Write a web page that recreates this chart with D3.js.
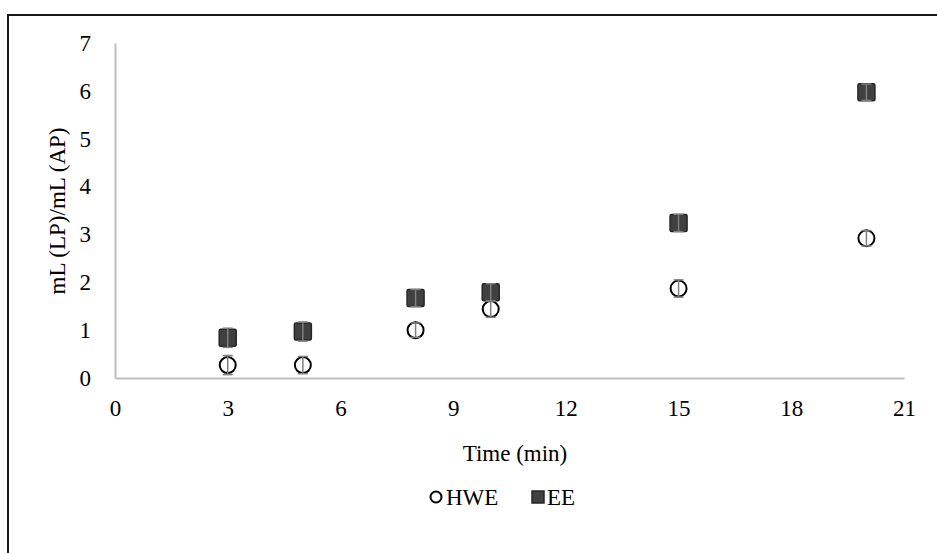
<!DOCTYPE html>
<html>
<head>
<meta charset="utf-8">
<script src="https://cdn.jsdelivr.net/npm/d3@7"></script>
<style>
  body { margin: 0; background: #fff; }
</style>
</head>
<body>
<svg id="chart" width="937" height="553"></svg>
<script>
// Extraction times (min)
const times = [3, 5, 8, 10, 15, 20]

// Volume ratios, with their error bars
const hweValues = [0.27, 0.27, 1.0, 1.44, 1.87, 2.92]
const hweErrors = [0.2, 0.18, 0.15, 0.17, 0.18, 0.16]
const eeValues = [0.84, 0.97, 1.67, 1.79, 3.24, 5.97]
const eeErrors = [0.2, 0.2, 0.18, 0.18, 0.18, 0.17]

const xTicks = [0, 3, 6, 9, 12, 15, 18, 21]
const yTicks = [0, 1, 2, 3, 4, 5, 6, 7]

const FONT = "'Liberation Serif', 'Times New Roman', 'DejaVu Serif', serif"
const FONT_SIZE = '23px'

const svg = d3.select('#chart')

// Outer frame of the chart area
svg.append('rect')
  .attr('x', 8)
  .attr('y', 15)
  .attr('width', 940)
  .attr('height', 560)
  .attr('fill', 'none')
  .attr('stroke', '#1a1a1a')
  .attr('stroke-width', 2)

const x = d3.scaleLinear().domain([0, 21]).range([115, 904])
const y = d3.scaleLinear().domain([0, 7]).range([378, 43])

// Axes: grey lines, no tick marks
const xAxis = svg.append('g')
  .attr('transform', `translate(0,${y(0)})`)
  .call(d3.axisBottom(x).tickValues(xTicks).tickFormat(d3.format('d')).tickSize(0).tickPadding(22))
xAxis.select('.domain').attr('stroke', '#bfbfbf').attr('stroke-width', 2)
xAxis.selectAll('text')
  .style('font-family', FONT)
  .style('font-size', FONT_SIZE)
  .attr('fill', '#000')

const yAxis = svg.append('g')
  .attr('transform', `translate(${x(0)},0)`)
  .call(d3.axisLeft(y).tickValues(yTicks).tickFormat(d3.format('d')).tickSize(0).tickPadding(24))
yAxis.select('.domain').attr('stroke', '#bfbfbf').attr('stroke-width', 2)
yAxis.selectAll('text')
  .style('font-family', FONT)
  .style('font-size', FONT_SIZE)
  .attr('fill', '#000')

// Axis titles
svg.append('text')
  .attr('x', 515)
  .attr('y', 461)
  .attr('text-anchor', 'middle')
  .style('font-family', FONT)
  .style('font-size', FONT_SIZE)
  .text('Time (min)')

svg.append('text')
  .attr('transform', 'translate(65,211) rotate(-90)')
  .attr('text-anchor', 'middle')
  .style('font-family', FONT)
  .style('font-size', FONT_SIZE)
  .text('mL (LP)/mL (AP)')

const hwe = times.map((t, i) => ({ t, v: hweValues[i], e: hweErrors[i] }))
const ee = times.map((t, i) => ({ t, v: eeValues[i], e: eeErrors[i] }))

// EE squares
svg.append('g').selectAll('rect')
  .data(ee)
  .join('rect')
  .attr('x', d => x(d.t) - 8.5)
  .attr('y', d => y(d.v) - 8.5)
  .attr('width', 17)
  .attr('height', 17)
  .attr('rx', 1.5)
  .attr('fill', '#404040')
  .attr('stroke', '#262626')
  .attr('stroke-width', 1.5)

// HWE circles
svg.append('g').selectAll('circle')
  .data(hwe)
  .join('circle')
  .attr('cx', d => x(d.t))
  .attr('cy', d => y(d.v))
  .attr('r', 8)
  .attr('fill', '#fff')
  .attr('stroke', '#000')
  .attr('stroke-width', 2)

// Error bars drawn over the markers
function errorBars (data) {
  const g = svg.append('g').attr('stroke', '#7f7f7f').attr('stroke-width', 1.5)
  data.forEach(d => {
    g.append('line')
      .attr('x1', x(d.t)).attr('x2', x(d.t))
      .attr('y1', y(d.v - d.e)).attr('y2', y(d.v + d.e))
    g.append('line')
      .attr('x1', x(d.t) - 5).attr('x2', x(d.t) + 5)
      .attr('y1', y(d.v + d.e)).attr('y2', y(d.v + d.e))
    g.append('line')
      .attr('x1', x(d.t) - 5).attr('x2', x(d.t) + 5)
      .attr('y1', y(d.v - d.e)).attr('y2', y(d.v - d.e))
  })
}
errorBars(ee)
errorBars(hwe)

// Legend
const legend = svg.append('g')
  .style('font-family', FONT)
  .style('font-size', FONT_SIZE)
legend.append('circle')
  .attr('cx', 436).attr('cy', 497).attr('r', 5.5)
  .attr('fill', '#fff').attr('stroke', '#000').attr('stroke-width', 2)
legend.append('text').attr('x', 446).attr('y', 505).text('HWE')
legend.append('rect')
  .attr('x', 532).attr('y', 491).attr('width', 12).attr('height', 12)
  .attr('fill', '#404040').attr('stroke', '#262626').attr('stroke-width', 1.5)
legend.append('text').attr('x', 547).attr('y', 505).text('EE')
</script>
</body>
</html>
